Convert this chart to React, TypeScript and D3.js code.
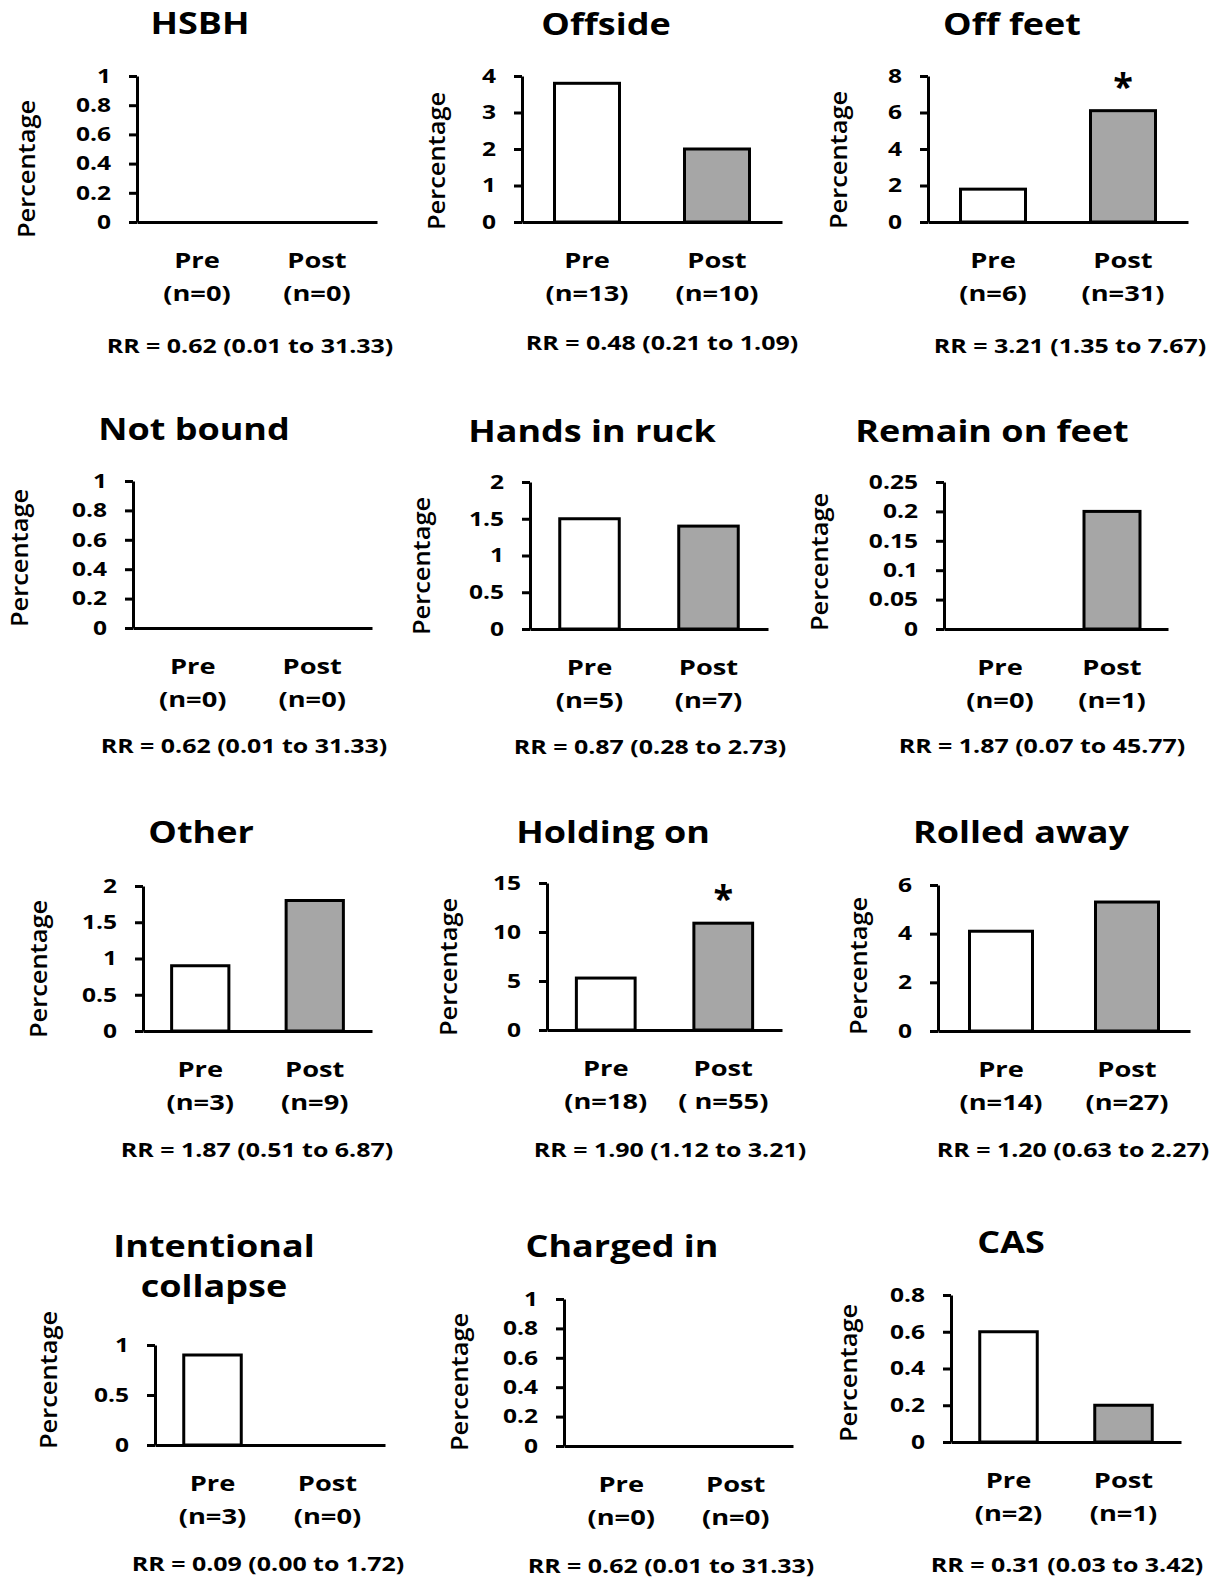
import React, { useRef, useEffect } from "react";
import * as d3 from "d3";

// data
const titles = ["HSBH", "Offside", "Off feet", "Not bound", "Hands in ruck", "Remain on feet",
  "Other", "Holding on", "Rolled away", "Intentional\ncollapse", "Charged in", "CAS"];
const groups = ["Pre", "Post"];
const preValues = [0, 3.8, 1.8, 0, 1.5, 0, 0.9, 5.3, 4.1, 0.9, 0, 0.6];
const postValues = [0, 2.0, 6.1, 0, 1.4, 0.2, 1.8, 10.9, 5.3, 0, 0, 0.2];
const preN = ["(n=0)", "(n=13)", "(n=6)", "(n=0)", "(n=5)", "(n=0)", "(n=3)", "(n=18)", "(n=14)", "(n=3)", "(n=0)", "(n=2)"];
const postN = ["(n=0)", "(n=10)", "(n=31)", "(n=0)", "(n=7)", "(n=1)", "(n=9)", "( n=55)", "(n=27)", "(n=0)", "(n=0)", "(n=1)"];
const rrLabels = [
  "RR = 0.62 (0.01 to 31.33)", "RR = 0.48 (0.21 to 1.09)", "RR = 3.21 (1.35 to 7.67)",
  "RR = 0.62 (0.01 to 31.33)", "RR = 0.87 (0.28 to 2.73)", "RR = 1.87 (0.07 to 45.77)",
  "RR = 1.87 (0.51 to 6.87)", "RR = 1.90 (1.12 to 3.21)", "RR = 1.20 (0.63 to 2.27)",
  "RR = 0.09 (0.00 to 1.72)", "RR = 0.62 (0.01 to 31.33)", "RR = 0.31 (0.03 to 3.42)",
];
const significant = [false, false, true, false, false, false, false, true, false, false, false, false];
const yTicks = [
  [0, 0.2, 0.4, 0.6, 0.8, 1], [0, 1, 2, 3, 4], [0, 2, 4, 6, 8],
  [0, 0.2, 0.4, 0.6, 0.8, 1], [0, 0.5, 1, 1.5, 2], [0, 0.05, 0.1, 0.15, 0.2, 0.25],
  [0, 0.5, 1, 1.5, 2], [0, 5, 10, 15], [0, 2, 4, 6],
  [0, 0.5, 1], [0, 0.2, 0.4, 0.6, 0.8, 1], [0, 0.2, 0.4, 0.6, 0.8],
];

// panel placement (pixels)
const layout = [
  { x0: 137, x1: 377, top: 76, base: 222, tx: 200, ty: 34, lx: 35, ly: 169, rx: 250, ry: 353 },
  { x0: 522, x1: 782, top: 76, base: 222, tx: 606, ty: 35, lx: 445, ly: 161, rx: 662, ry: 350 },
  { x0: 928, x1: 1188, top: 76, base: 222, tx: 1012, ty: 35, lx: 847, ly: 160, rx: 1070, ry: 353 },
  { x0: 133, x1: 372, top: 481, base: 628, tx: 194, ty: 440, lx: 28, ly: 558, rx: 244, ry: 753 },
  { x0: 530, x1: 768, top: 482, base: 629, tx: 592, ty: 442, lx: 430, ly: 566, rx: 650, ry: 754 },
  { x0: 944, x1: 1168, top: 482, base: 629, tx: 992, ty: 442, lx: 828, ly: 562, rx: 1042, ry: 753 },
  { x0: 143, x1: 372, top: 886, base: 1031, tx: 201, ty: 843, lx: 47, ly: 969, rx: 257, ry: 1157 },
  { x0: 547, x1: 782, top: 883, base: 1030, tx: 613, ty: 843, lx: 457, ly: 967, rx: 670, ry: 1157 },
  { x0: 938, x1: 1190, top: 885, base: 1031, tx: 1021, ty: 843, lx: 867, ly: 966, rx: 1073, ry: 1157 },
  { x0: 155, x1: 385, top: 1345, base: 1445, tx: 214, ty: 1257, lx: 57, ly: 1380, rx: 268, ry: 1571 },
  { x0: 564, x1: 793, top: 1299, base: 1446, tx: 622, ty: 1257, lx: 468, ly: 1382, rx: 671, ry: 1573 },
  { x0: 951, x1: 1181, top: 1295, base: 1442, tx: 1011, ty: 1253, lx: 857, ly: 1373, rx: 1067, ry: 1572 },
];

const FONT = "'Open Sans', 'Noto Sans', sans-serif";

export default function App() {
  const svgRef = useRef<SVGSVGElement>(null);

  useEffect(() => {
    const svg = d3.select(svgRef.current);
    svg.selectAll("*").remove();
    svg.append("rect").attr("width", 1217).attr("height", 1579).attr("fill", "#fff");

    titles.forEach((title, i) => {
      const L = layout[i];
      const g = svg.append("g").attr("font-family", FONT).attr("fill", "#000");

      const y = d3.scaleLinear()
        .domain([0, yTicks[i][yTicks[i].length - 1]])
        .range([L.base, L.top]);
      const x = d3.scaleBand().domain(groups).range([L.x0, L.x1])
        .paddingInner(0.5).paddingOuter(0.25);

      // title (may be two lines)
      title.split("\n").forEach((line, k) => {
        g.append("text")
          .attr("transform", `translate(${L.tx},${L.ty + k * 40}) scale(1.22,1)`)
          .attr("text-anchor", "middle")
          .attr("font-size", 29.5)
          .attr("font-weight", 700)
          .text(line);
      });

      // y label
      g.append("text")
        .attr("transform", `translate(${L.lx},${L.ly}) rotate(-90) scale(1.06,1)`)
        .attr("text-anchor", "middle")
        .attr("font-size", 24)
        .attr("font-weight", 600)
        .text("Percentage");

      // bars
      const vals = [preValues[i], postValues[i]];
      groups.forEach((grp, k) => {
        if (vals[k] <= 0) return;
        g.append("rect")
          .attr("x", x(grp)!)
          .attr("width", x.bandwidth())
          .attr("y", y(vals[k]))
          .attr("height", y(0) - y(vals[k]))
          .attr("fill", k === 0 ? "#ffffff" : "#a6a6a6")
          .attr("stroke", "#000")
          .attr("stroke-width", 3);
      });

      if (significant[i]) {
        g.append("text")
          .attr("x", x("Post")! + x.bandwidth() / 2)
          .attr("y", y(postValues[i]) - 12)
          .attr("text-anchor", "middle")
          .attr("font-size", 36)
          .attr("font-weight", 700)
          .text("*");
      }

      // y axis
      const yAxis = g.append("g")
        .attr("transform", `translate(${L.x0},0)`)
        .call(d3.axisLeft(y).tickValues(yTicks[i]).tickSize(8).tickSizeOuter(0)
          .tickFormat((d) => String(d)));
      yAxis.select(".domain").attr("stroke-width", 3);
      yAxis.selectAll(".tick line").attr("stroke-width", 3);
      yAxis.selectAll(".tick text")
        .attr("x", 0)
        .attr("transform", `translate(-26,0) scale(1.26,1)`)
        .attr("font-family", FONT)
        .attr("font-size", 19.5)
        .attr("font-weight", 700)
        .attr("fill", "#000");

      // x axis
      const xAxis = g.append("g")
        .attr("transform", `translate(0,${L.base})`)
        .call(d3.axisBottom(x).tickSize(0).tickSizeOuter(0).tickFormat(() => ""));
      xAxis.select(".domain").attr("stroke-width", 3);
      xAxis.selectAll(".tick text").remove();

      const nLabels = [preN[i], postN[i]];
      groups.forEach((grp, k) => {
        const cx = x(grp)! + x.bandwidth() / 2;
        g.append("text")
          .attr("transform", `translate(${cx},${L.base + 46}) scale(1.24,1)`)
          .attr("text-anchor", "middle")
          .attr("font-size", 22)
          .attr("font-weight", 700)
          .text(grp);
        g.append("text")
          .attr("transform", `translate(${cx},${L.base + 79}) scale(1.24,1)`)
          .attr("text-anchor", "middle")
          .attr("font-size", 22)
          .attr("font-weight", 700)
          .style("white-space", "pre")
          .text(nLabels[k]);
      });

      g.append("text")
        .attr("transform", `translate(${L.rx},${L.ry}) scale(1.28,1)`)
        .attr("text-anchor", "middle")
        .attr("font-size", 19.5)
        .attr("font-weight", 700)
        .text(rrLabels[i]);
    });
  }, []);

  return (
    <div style={{ position: "absolute", left: 0, top: 0 }}>
      <svg ref={svgRef} width={1217} height={1579} style={{ display: "block" }} />
    </div>
  );
}
